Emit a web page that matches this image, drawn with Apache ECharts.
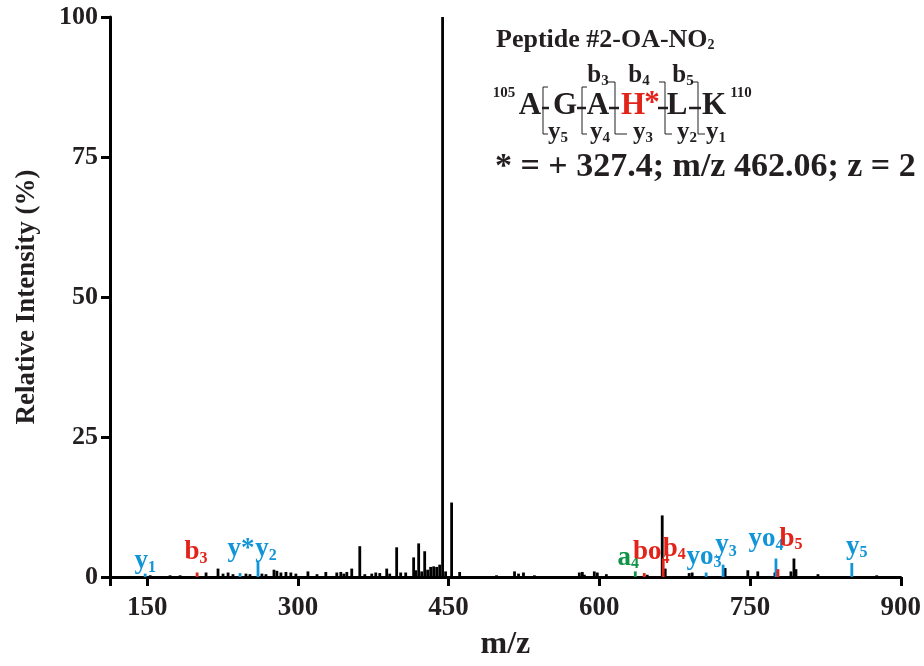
<!DOCTYPE html>
<html>
<head>
<meta charset="utf-8">
<script src="https://cdn.jsdelivr.net/npm/echarts@6/dist/echarts.min.js"></script>
<style>
  html, body { margin: 0; background: #fff; }
  #chart { width: 924px; height: 666px; }
</style>
</head>
<body>
<div id="chart"></div>
<script>
// unassigned peaks (black)
const blackMz = [153, 172.8, 182.8, 208.6, 220.5, 225.5, 230.5, 235.4, 248.3, 252.3, 264.2, 268.2, 276.2, 279.1, 283.1, 288.1, 293, 298, 310, 319,
  327.8, 338.7, 342.7, 345.7, 348.7, 353.6, 361.6, 366.6, 373.5, 377.5, 381.5, 388.4, 391.4, 398.3, 402.3, 407.3, 415.2, 417.2, 420.2, 423.2,
  426.2, 429.1, 432.1, 435.1, 438.1, 441.1, 444, 447, 453, 461, 497.7, 515.6, 519.6, 524.5, 535.4, 580.1, 583.1, 585.1, 595, 598,
  607, 647.7, 662.6, 665.6, 689.4, 692.4, 725.2, 747.8, 757.7, 774.8, 790.7, 793.7, 795.7, 817.6, 876.1];
const blackInt = [0.3, 0.3, 0.3, 0.8, 1.5, 0.6, 0.8, 0.5, 0.6, 0.5, 0.6, 0.5, 1.3, 1.1, 0.8, 0.9, 0.8, 0.6, 1.0, 0.5,
  0.9, 0.8, 0.9, 0.6, 0.9, 1.5, 5.5, 0.5, 0.6, 0.8, 0.7, 1.5, 0.6, 5.3, 0.8, 0.8, 3.5, 1.2, 6.0, 1.0,
  4.6, 1.3, 1.8, 1.9, 1.8, 2.2, 100, 1.0, 13.3, 0.9, 0.3, 1.0, 0.6, 0.8, 0.3, 0.8, 0.9, 0.4, 1.0, 0.8,
  0.5, 0.4, 11, 1.5, 0.7, 0.8, 1.6, 1.2, 1.0, 0.8, 1.0, 3.3, 1.4, 0.5, 0.3];

// y ions (blue), b ions (red), a ions (green)
const yIonMz = [148, 242.4, 260.3, 706.3, 723.2, 775.8, 851.3];
const yIonInt = [0.6, 0.7, 2.7, 0.8, 2.2, 3.3, 2.5];
const bIonMz = [199.7, 644.7, 663.6, 777.8];
const bIonInt = [0.8, 0.7, 3.0, 1.4];
const aIonMz = [635.8];
const aIonInt = [1.0];

// peak annotations
const annText = ['y', 'b', 'y*', 'y', 'a', 'bo', 'b', 'yo', 'y', 'yo', 'b', 'y'];
const annSub = ['1', '3', '', '2', '4', '4', '4', '3', '3', '4', '5', '5'];
const annMz = [148, 198.7, 243.4, 268.2, 628.8, 651.6, 674.5, 704.3, 726.2, 765.9, 790.7, 856.3];
const annAt = [0.45, 2.05, 2.6, 2.6, 1.15, 2.05, 2.75, 1.3, 3.3, 4.4, 4.5, 3.1];
const annKind = ['y', 'b', 'y', 'y', 'a', 'b', 'b', 'y', 'y', 'y', 'b', 'y'];

const xTicks = [113, 150, 300, 450, 600, 750, 900];
const xLabels = [150, 300, 450, 600, 750, 900];

const BLUE = '#1295d8', RED = '#e2231a', GREEN = '#0f9347', INK = '#231f20';
const kindColor = { y: BLUE, b: RED, a: GREEN };
const FONT = '"Liberation Serif", "Times New Roman", serif';

const chart = echarts.init(document.getElementById('chart'));

function peak(params, api) {
  const top = api.coord([api.value(0), api.value(1)]);
  const base = api.coord([api.value(0), 0]);
  return {
    type: 'rect',
    shape: { x: top[0] - 1.4, y: top[1], width: 2.8, height: base[1] - top[1] },
    style: { fill: api.visual('color') }
  };
}

function peakSeries(mz, inten, color) {
  return {
    type: 'custom',
    renderItem: peak,
    clip: false,
    itemStyle: { color: color },
    data: mz.map((m, i) => [m, inten[i]])
  };
}

const annRich = {
  n: { fontFamily: FONT, fontWeight: 'bold', fontSize: 27, lineHeight: 26 },
  s: { fontFamily: FONT, fontWeight: 'bold', fontSize: 16, lineHeight: 14, padding: [12, 0, 0, 0] }
};

// peptide fragmentation sketch (top right)
const seqFont = 'bold 31px ' + FONT;
const g = [];
function txt(x, y, text, font, color, align) {
  g.push({ type: 'text', x: x, y: y, style: { text: text, font: font, fill: color || INK, align: align || 'left', verticalAlign: 'middle' } });
}
function seg(x1, y1, x2, y2, w) {
  g.push({ type: 'line', shape: { x1: x1, y1: y1, x2: x2, y2: y2 }, style: { stroke: INK, lineWidth: w || 1 } });
}
function ion(x, y, letter, num) {
  g.push({
    type: 'text', x: x, y: y,
    style: {
      text: '{n|' + letter + '}{s|' + num + '}', fill: INK, align: 'center', verticalAlign: 'middle',
      rich: {
        n: { font: 'bold 25px ' + FONT, lineHeight: 24 },
        s: { font: 'bold 15px ' + FONT, lineHeight: 14, padding: [10, 0, 0, 0] }
      }
    }
  });
}

g.push({
  type: 'text', x: 496, y: 40,
  style: {
    text: '{t|Peptide #2-OA-NO}{s|2}', fill: INK, verticalAlign: 'middle',
    rich: {
      t: { font: 'bold 26px ' + FONT, lineHeight: 26 },
      s: { font: 'bold 14px ' + FONT, lineHeight: 14, padding: [11, 0, 0, 0] }
    }
  }
});
txt(504, 93, '105', 'bold 15px ' + FONT, INK, 'center');
txt(530, 106, 'A', seqFont, INK, 'center');
txt(565, 106, 'G', seqFont, INK, 'center');
txt(598, 106, 'A', seqFont, INK, 'center');
txt(633, 106, 'H', seqFont, RED, 'center');
txt(652, 104, '*', seqFont, RED, 'center');
txt(677, 106, 'L', seqFont, INK, 'center');
txt(714, 106, 'K', seqFont, INK, 'center');
txt(741, 93, '110', 'bold 15px ' + FONT, INK, 'center');
// hyphens
[[542, 549], [577, 586], [609, 619], [658, 668], [689, 701]].forEach(h => seg(h[0], 108, h[1], 108, 2.5));
// cleavage brackets
seg(543, 87, 543, 134); seg(543, 87, 548, 87); seg(543, 134, 548, 134);
seg(582, 87, 582, 134); seg(582, 87, 587, 87); seg(582, 134, 587, 134);
seg(615, 82, 615, 134); seg(608, 82, 615, 82); seg(615, 134, 627, 134);
seg(665, 82, 665, 134); seg(659, 82, 665, 82); seg(665, 134, 672, 134);
seg(698, 82, 698, 134); seg(692, 82, 698, 82); seg(698, 134, 705, 134);
ion(598, 76, 'b', '3'); ion(639, 76, 'b', '4'); ion(683, 76, 'b', '5');
ion(558, 133, 'y', '5'); ion(600, 133, 'y', '4'); ion(643, 133, 'y', '3');
ion(687, 133, 'y', '2'); ion(716, 133, 'y', '1');
txt(495, 167, '* = + 327.4; m/z 462.06; z = 2', 'bold 34px ' + FONT);

const option = {
  animation: false,
  backgroundColor: '#fff',
  grid: { left: 110, right: 22, top: 17, bottom: 88 },
  xAxis: {
    type: 'value',
    min: 113,
    max: 900,
    name: 'm/z',
    nameLocation: 'middle',
    nameGap: 52,
    nameTextStyle: { fontFamily: FONT, fontWeight: 'bold', fontSize: 32, color: INK },
    axisLine: { show: true, onZero: false, lineStyle: { color: '#000', width: 3 } },
    axisTick: { show: true, length: 9, lineStyle: { color: '#000', width: 3 }, customValues: xTicks },
    axisLabel: { customValues: xLabels, margin: 18, fontFamily: FONT, fontWeight: 'bold', fontSize: 27, color: INK },
    splitLine: { show: false }
  },
  yAxis: {
    type: 'value',
    min: 0,
    max: 100,
    interval: 25,
    name: 'Relative Intensity (%)',
    nameLocation: 'middle',
    nameGap: 69,
    nameTextStyle: { fontFamily: FONT, fontWeight: 'bold', fontSize: 27, color: INK },
    axisLine: { show: true, onZero: false, lineStyle: { color: '#000', width: 3 } },
    axisTick: { show: true, length: 9, lineStyle: { color: '#000', width: 3 } },
    axisLabel: { margin: 12, fontFamily: FONT, fontWeight: 'bold', fontSize: 26, color: INK },
    splitLine: { show: false }
  },
  series: [
    peakSeries(blackMz, blackInt, '#000'),
    peakSeries(yIonMz, yIonInt, BLUE),
    peakSeries(bIonMz, bIonInt, RED),
    peakSeries(aIonMz, aIonInt, GREEN),
    {
      type: 'scatter',
      symbolSize: 0,
      clip: false,
      silent: true,
      itemStyle: { opacity: 1 },
      data: annMz.map((m, i) => ({
        value: [m, annAt[i]],
        label: { color: kindColor[annKind[i]] }
      })),
      label: {
        show: true,
        opacity: 1,
        position: [0, 0],
        align: 'center',
        verticalAlign: 'bottom',
        formatter: p => '{n|' + annText[p.dataIndex] + '}' + (annSub[p.dataIndex] ? '{s|' + annSub[p.dataIndex] + '}' : ''),
        rich: annRich
      }
    }
  ],
  graphic: g
};

chart.setOption(option);
</script>
</body>
</html>
